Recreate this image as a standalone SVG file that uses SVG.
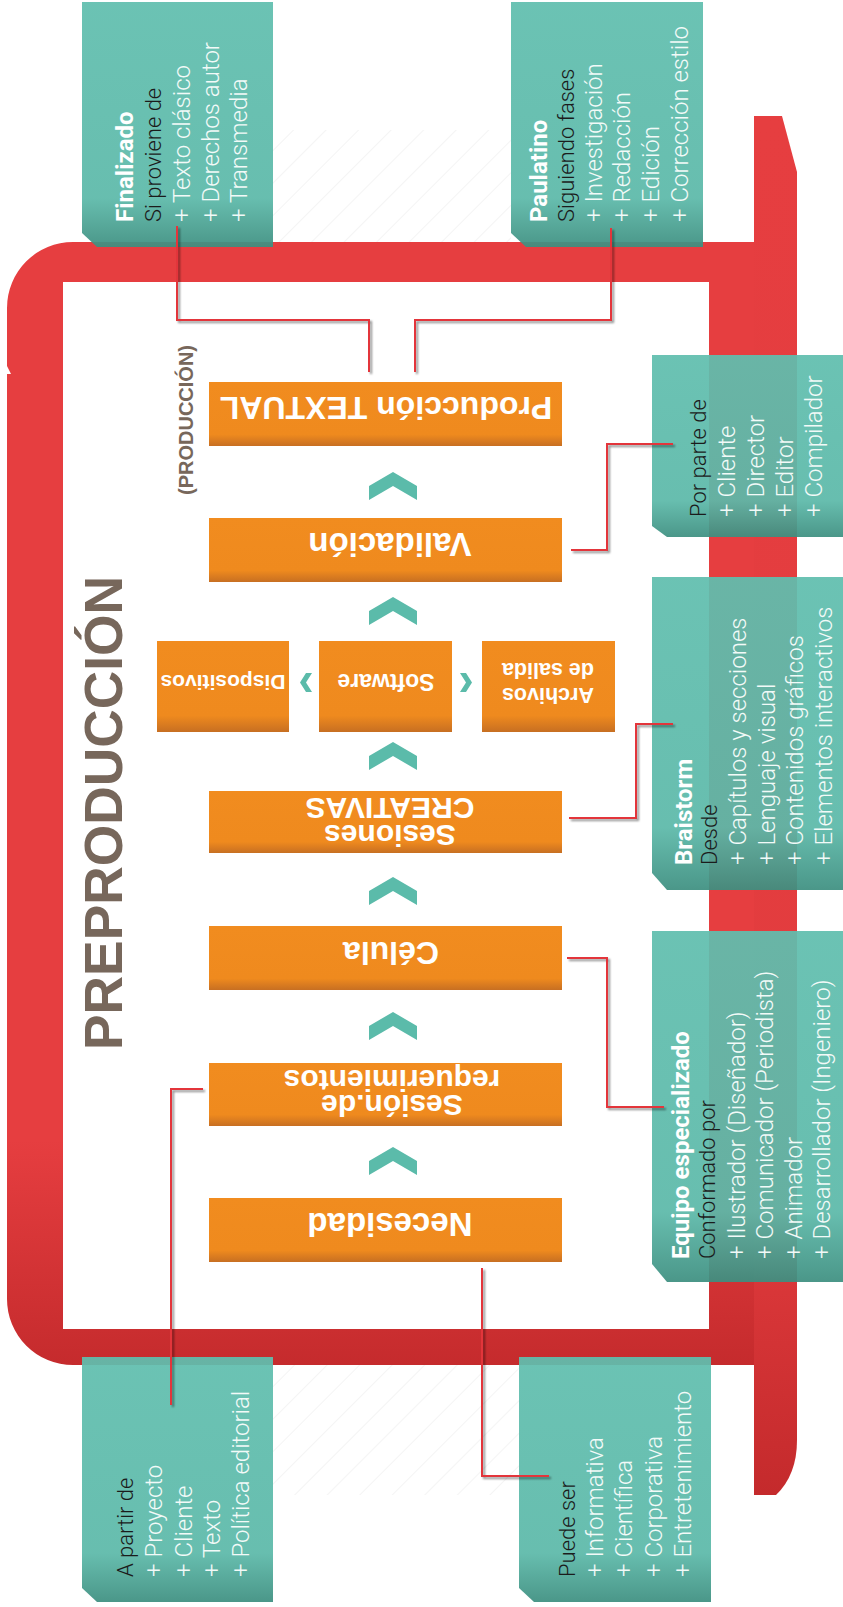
<svg xmlns="http://www.w3.org/2000/svg" width="843" height="1607" viewBox="0 0 843 1607">
<defs>
<linearGradient id="gRedFrame" x1="0" y1="0" x2="0" y2="1"><stop offset="0" stop-color="#E63E40"/><stop offset="0.8" stop-color="#E63E40"/><stop offset="1" stop-color="#C52B2D"/></linearGradient>
<linearGradient id="gRedBar" x1="0" y1="0" x2="0" y2="1"><stop offset="0" stop-color="#E63E40"/><stop offset="0.78" stop-color="#E23C3E"/><stop offset="1" stop-color="#C42A2C"/></linearGradient>
<linearGradient id="gTeal" x1="0" y1="0" x2="0" y2="1"><stop offset="0" stop-color="#60BEAE"/><stop offset="0.8" stop-color="#5CB9A9"/><stop offset="1" stop-color="#3D8F80"/></linearGradient>
<linearGradient id="gOrange" x1="0" y1="0" x2="0" y2="1"><stop offset="0" stop-color="#F18C1F"/><stop offset="0.82" stop-color="#EF8A1E"/><stop offset="1" stop-color="#C76F22"/></linearGradient>
<pattern id="hatch" width="23" height="23" patternUnits="userSpaceOnUse" patternTransform="rotate(45)"><line x1="0" y1="0" x2="0" y2="23" stroke="#EAEAEA" stroke-width="1"/></pattern>
<path id="chev" d="M-24,14 L0,0 L24,14 L24,28 L0,14 L-24,28 Z"/>
<filter id="shadow" x="-20%" y="-20%" width="140%" height="140%"><feDropShadow dx="2" dy="2" stdDeviation="1.2" flood-color="#000" flood-opacity="0.45"/></filter>
</defs>
<style>
.teal{fill:url(#gTeal);opacity:.93}
.orange{fill:url(#gOrange)}
.ot{font-family:"Liberation Sans",Arial,sans-serif;font-weight:700;fill:#fff;text-anchor:middle}
.tt{font-family:Roboto,"Liberation Sans",sans-serif;font-size:24px}
.h{font-weight:700;fill:#fff}
.s{font-weight:300;fill:#1b1b1b;font-size:22px}
.i{font-weight:300;fill:#F2FAF8}
.conn{fill:none;stroke:#E3363A;stroke-width:2;filter:url(#shadow)}
.chev{fill:#5BBBAA}
.title{font-family:"Liberation Sans",Arial,sans-serif;font-weight:700;fill:#77675B}
</style>

<g id="frame">
<path d="M73,242 H754 V1365 H73 A66,66 0 0 1 7,1299 V308 A66,66 0 0 1 73,242 Z M63,282 V1329 H709 V282 Z" fill="url(#gRedFrame)" fill-rule="evenodd"/>
<path d="M754,116 H782 L797,172 V1440 Q797,1475 776,1495 H754 Z" fill="url(#gRedBar)"/>
<polygon points="7,366 11,374 7,374" fill="#fff"/>
</g>
<g id="hatching">
<rect x="273" y="130" width="238" height="112" fill="url(#hatch)"/>
<rect x="273" y="1365" width="246" height="130" fill="url(#hatch)"/>
</g>

<text class="title" transform="translate(122,1050) rotate(-90)" font-size="54" textLength="474" lengthAdjust="spacingAndGlyphs">PREPRODUCCIÓN</text>
<text class="title" transform="translate(193,495) rotate(-90)" font-size="20">(PRODUCCIÓN)</text>

<g id="chevrons">
<use href="#chev" class="chev" x="393" y="472"/>
<use href="#chev" class="chev" x="393" y="597"/>
<use href="#chev" class="chev" x="393" y="742"/>
<use href="#chev" class="chev" x="393" y="877"/>
<use href="#chev" class="chev" x="393" y="1012"/>
<use href="#chev" class="chev" x="393" y="1147"/>
<polygon class="chev" points="312,673 306,673 300,682.5 306,692 312,692 306,682.5"/>
<polygon class="chev" points="460,673 466,673 472,682.5 466,692 460,692 466,682.5"/>
</g>

<g id="n-produccion"><rect class="orange" x="209" y="382" width="353" height="64"/><text class="ot" font-size="32" transform="translate(386,397) rotate(180)">Producción TEXTUAL</text></g>
<g id="n-validacion"><rect class="orange" x="209" y="518" width="353" height="64"/><text class="ot" font-size="33" transform="translate(390,533) rotate(180)">Validación</text></g>
<g id="n-dispositivos"><rect class="orange" x="157" y="641" width="132" height="91"/><text class="ot" font-size="21" transform="translate(223,675) rotate(180)">Dispositivos</text></g>
<g id="n-software"><rect class="orange" x="319" y="641" width="133" height="91"/><text class="ot" font-size="23" transform="translate(386,674) rotate(180)">Software</text></g>
<g id="n-archivos"><rect class="orange" x="482" y="641" width="133" height="91"/><text class="ot" font-size="21.5" transform="translate(548,688) rotate(180)"><tspan x="0" y="0">Archivos</tspan><tspan x="0" y="25">de salida</tspan></text></g>
<g id="n-sesiones"><rect class="orange" x="209" y="791" width="353" height="62"/><text class="ot" font-size="30" transform="translate(390,825) rotate(180)"><tspan x="0" y="0">Sesiones</tspan><tspan x="0" y="27">CREATIVAS</tspan></text></g>
<g id="n-celula"><rect class="orange" x="209" y="926" width="353" height="64"/><text class="ot" font-size="32" transform="translate(391,942) rotate(180)">Célula</text></g>
<g id="n-sesion"><rect class="orange" x="209" y="1063" width="353" height="63"/><text class="ot" font-size="30" transform="translate(392,1095) rotate(180)"><tspan x="0" y="0">Sesión.de</tspan><tspan x="0" y="25">requerimientos</tspan></text></g>
<g id="n-necesidad"><rect class="orange" x="209" y="1198" width="353" height="64"/><text class="ot" font-size="33" transform="translate(390,1213) rotate(180)">Necesidad</text></g>

<g id="t-finalizado"><path class="teal" d="M82,2 H273 V247 H97 L82,233 Z"/>
<text class="tt" transform="translate(133,222) rotate(-90)"><tspan class="h" x="0" y="0">Finalizado</tspan><tspan class="s" x="0" y="28">Si proviene de</tspan><tspan class="i" x="0" y="57">+ Texto clásico</tspan><tspan class="i" x="0" y="85.5">+ Derechos autor</tspan><tspan class="i" x="0" y="114">+ Transmedia</tspan></text></g>

<g id="t-paulatino"><path class="teal" d="M511,2 H703 V247 H526 L511,233 Z"/>
<text class="tt" transform="translate(547,222) rotate(-90)"><tspan class="h" x="0" y="0">Paulatino</tspan><tspan class="s" x="0" y="27">Siguiendo fases</tspan><tspan class="i" x="0" y="55">+ Investigación</tspan><tspan class="i" x="0" y="83">+ Redacción</tspan><tspan class="i" x="0" y="112">+ Edición</tspan><tspan class="i" x="0" y="141">+ Corrección estilo</tspan></text></g>

<g id="t-porparte"><path class="teal" d="M652,355 H843 V537 H667 L652,526 Z"/>
<text class="tt" transform="translate(706,517) rotate(-90)"><tspan class="s" x="0" y="0">Por parte de</tspan><tspan class="i" x="0" y="29">+ Cliente</tspan><tspan class="i" x="0" y="58">+ Director</tspan><tspan class="i" x="0" y="87">+ Editor</tspan><tspan class="i" x="0" y="116">+ Compilador</tspan></text></g>

<g id="t-braistorm"><path class="teal" d="M652,577 H843 V890 H667 L652,873 Z"/>
<text class="tt" transform="translate(692,865) rotate(-90)"><tspan class="h" x="0" y="0">Braistorm</tspan><tspan class="s" x="0" y="25">Desde</tspan><tspan class="i" x="0" y="54">+ Capítulos y secciones</tspan><tspan class="i" x="0" y="83">+ Lenguaje visual</tspan><tspan class="i" x="0" y="111">+ Contenidos gráficos</tspan><tspan class="i" x="0" y="140">+ Elementos interactivos</tspan></text></g>

<g id="t-equipo"><path class="teal" d="M652,931 H843 V1282 H667 L652,1264 Z"/>
<text class="tt" transform="translate(689,1259) rotate(-90)"><tspan class="h" x="0" y="0">Equipo especializado</tspan><tspan class="s" x="0" y="26">Conformado por</tspan><tspan class="i" x="0" y="56">+ Ilustrador (Diseñador)</tspan><tspan class="i" x="0" y="84">+ Comunicador (Periodista)</tspan><tspan class="i" x="0" y="113">+ Animador</tspan><tspan class="i" x="0" y="141">+ Desarrollador (Ingeniero)</tspan></text></g>

<g id="t-apartir"><path class="teal" d="M82,1357 H273 V1602 H97 L82,1588 Z"/>
<text class="tt" transform="translate(133,1577) rotate(-90)"><tspan class="s" x="0" y="0">A partir de</tspan><tspan class="i" x="0" y="29">+ Proyecto</tspan><tspan class="i" x="0" y="59">+ Cliente</tspan><tspan class="i" x="0" y="87">+ Texto</tspan><tspan class="i" x="0" y="116">+ Política editorial</tspan></text></g>

<g id="t-puedeser"><path class="teal" d="M519,1357 H711 V1602 H534 L519,1588 Z"/>
<text class="tt" transform="translate(575,1577) rotate(-90)"><tspan class="s" x="0" y="0">Puede ser</tspan><tspan class="i" x="0" y="28">+ Informativa</tspan><tspan class="i" x="0" y="57">+ Científica</tspan><tspan class="i" x="0" y="87">+ Corporativa</tspan><tspan class="i" x="0" y="116">+ Entretenimiento</tspan></text></g>

<g id="connectors">
<path class="conn" d="M177,226 V320 H369 V372"/>
<path class="conn" d="M611,228 V320 H415 V372"/>
<path class="conn" d="M571,550 H607 V444 H673"/>
<path class="conn" d="M569,818 H636 V724 H673"/>
<path class="conn" d="M567,958 H607 V1107 H664"/>
<path class="conn" d="M203,1089 H171 V1405"/>
<path class="conn" d="M482,1268 V1476 H549"/>
</g>
</svg>
